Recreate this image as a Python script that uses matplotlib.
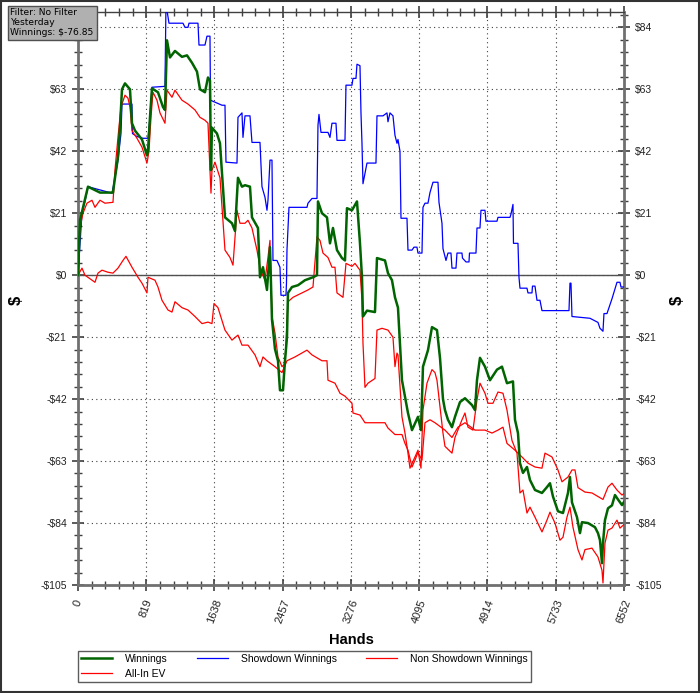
import matplotlib
matplotlib.use('Agg')
import matplotlib.pyplot as plt
from matplotlib.ticker import MultipleLocator, FuncFormatter
from matplotlib.patches import Rectangle

plt.rcParams['font.family'] = ['Liberation Sans', 'DejaVu Sans']

# Winnings (green)
win_hands = [0, 24, 120, 264, 420, 444, 480, 504, 528, 564, 624, 648, 684, 768, 828, 840, 864, 888, 960, 1020,
             1044, 1068, 1104, 1164, 1248, 1308, 1368, 1428, 1464, 1524, 1560, 1584, 1596, 1608, 1668, 1704, 1764,
             1848, 1884, 1920, 1968, 2004, 2064, 2088, 2160, 2184, 2220, 2268, 2304, 2328, 2364, 2400, 2424, 2460,
             2484, 2508, 2520, 2568, 2640, 2724, 2820, 2868, 2880, 2928, 2988, 3024, 3060, 3108, 3168, 3204, 3228,
             3288, 3348, 3384, 3408, 3420, 3468, 3564, 3588, 3684, 3720, 3768, 3804, 3840, 3888, 3960, 4008, 4080,
             4116, 4140, 4200, 4248, 4308, 4344, 4380, 4404, 4440, 4488, 4524, 4584, 4644, 4728, 4764, 4788, 4824,
             4884, 4944, 5028, 5088, 5148, 5220, 5244, 5280, 5304, 5340, 5388, 5424, 5484, 5568, 5628, 5664, 5700,
             5760, 5820, 5880, 5904, 5928, 5988, 6024, 6048, 6120, 6204, 6240, 6264, 6288, 6300, 6324, 6360, 6408,
             6444, 6480, 6528, 6552]
win_vals = [0, 18.6, 30, 28, 28, 33, 40, 50, 63, 65, 63, 51.5, 49, 46, 40.6, 42, 53.5, 63.3, 62, 57,
            56, 79.6, 73.8, 76, 74, 74.5, 72, 69, 63, 62, 67, 66, 35.6, 50, 48, 44.7, 19.6,
            17.6, 15, 33, 30, 30.5, 30, 19.6, 16, -0.7, 2.7, -5, 9.5, -15, -25, -29, -39, -39,
            -29, -21, -6, -4, -3.4, -1.7, -0.7, 0, 25, 21, 19.6, 10.8, 16, 8.5, 5.8, 5, 22.7,
            22, 25, 10.8, -0.7, -14, -12, -12.5, 5.8, 5, 0.7, -1.7, -7.5, -11, -35.6, -46.7, -52.5, -48,
            -52.5, -31, -25.4, -17.6, -18.6, -28, -42, -45.7, -49, -51.5, -48, -43, -41.7, -44, -45.7, -35.6, -28,
            -31, -35.6, -32, -31, -36.6, -36, -49, -53.5, -63.7, -67, -65, -69.4, -72.8, -73.8, -71.8, -70.5, -75,
            -80, -80.6, -73.8, -68.4, -77, -82, -87.4, -83.7, -84, -85.4, -87.4, -89.8, -97.6, -90.8, -83, -79, -78,
            -74.5, -76, -77.9, -76.85]

# Showdown Winnings (blue)
sd_hands = [0, 48, 84, 120, 408, 444, 480, 516, 528, 648, 654, 708, 780, 840, 864, 888, 1044, 1056, 1092, 1260,
            1284, 1320, 1332, 1440, 1452, 1524, 1548, 1584, 1590, 1728, 1764, 1776, 1908, 1920, 1968, 1980, 2004,
            2064, 2088, 2184, 2208, 2244, 2268, 2280, 2304, 2328, 2340, 2388, 2424, 2436, 2496, 2502, 2508, 2532,
            2748, 2760, 2808, 2868, 2880, 2892, 2916, 3000, 3024, 3048, 3096, 3108, 3204, 3216, 3288, 3300, 3336,
            3348, 3384, 3396, 3408, 3420, 3444, 3468, 3576, 3588, 3660, 3708, 3720, 3744, 3780, 3804, 3828, 3840,
            3864, 3876, 3948, 3960, 4008, 4032, 4068, 4080, 4128, 4140, 4164, 4200, 4224, 4260, 4320, 4332, 4368,
            4380, 4416, 4440, 4476, 4488, 4536, 4548, 4608, 4614, 4656, 4692, 4698, 4776, 4788, 4824, 4836, 4884,
            4896, 5028, 5040, 5184, 5196, 5220, 5226, 5280, 5292, 5304, 5388, 5400, 5448, 5454, 5484, 5508, 5544,
            5568, 5892, 5904, 5916, 5928, 6144, 6240, 6264, 6300, 6312, 6348, 6408, 6468, 6504, 6516, 6552]
sd_vals = [0, 21, 25, 30, 27.8, 33, 39, 48, 58, 58, 48, 47, 46.4, 46.4, 53.5, 63.7, 64, 92, 85.4, 85.4,
           84, 84, 85.4, 85.4, 78, 78, 81, 81, 59.3, 57.6, 57.6, 38.3, 38, 53.5, 55, 46.7, 54,
           54, 45, 45, 30, 26.4, 22, 25.4, 39, 39, 5, 5, 2.7, -6.8, -6.8, -2.7, 8.5, 23,
           23, 24.4, 26, 26, 50.8, 54.5, 48.4, 48.4, 46.7, 51.5, 51.5, 45.7, 45.7, 64.4, 64.4, 66.7, 66.7,
           71.5, 71, 55, 44.7, 31, 34.5, 38, 38, 54, 54, 55, 52, 55, 54, 47.4, 44.7, 46,
           42, 19.3, 19.3, 8.5, 8.5, 9.5, 9.5, 7.5, 7.5, 23, 24.4, 24.4, 28, 31.5, 31.5, 24.7, 17.6,
           9, 5, 7.5, 7.5, 2.4, 2.4, 7.5, 7.5, 5.8, 4.5, 4.5, 7.5, 7.5, 16, 16, 22, 22,
           18.3, 18.3, 19.6, 19.6, 20.7, 24, 10.8, 10.8, -0.7, -4.4, -4.4, -6, -6, -3.7, -3.7, -8.5, -8.5,
           -12, -12, -2.7, -2.7, -14, -14.6, -16, -18, -19, -13, -13, -8, -2.4, -2.4, -4, -4]

# Non Showdown Winnings (red)
nsd_hands = [0, 48, 84, 204, 240, 288, 360, 420, 480, 540, 576, 648, 720, 768, 828, 840, 924, 960, 1008, 1080,
             1128, 1164, 1248, 1320, 1404, 1488, 1560, 1608, 1632, 1680, 1764, 1848, 1920, 1968, 2040, 2124, 2184,
             2220, 2268, 2364, 2448, 2508, 2604, 2748, 2808, 2928, 2988, 3000, 3084, 3144, 3204, 3288, 3300, 3384,
             3444, 3684, 3720, 3804, 3888, 3924, 3960, 4008, 4044, 4080, 4128, 4164, 4224, 4284, 4404, 4488, 4560,
             4644, 4764, 4884, 4968, 5040, 5100, 5148, 5244, 5328, 5400, 5484, 5568, 5604, 5688, 5760, 5808, 5880,
             5928, 5964, 6000, 6084, 6168, 6240, 6300, 6360, 6408, 6468, 6528, 6552]
nsd_vals = [0, 2.4, 0, -2.4, 0.7, 1.7, 1, 0.7, 2.4, 5, 6.4, 2.7, -0.7, -2.7, -6, -0.7, -1.7, -4, -8.5, -11.8,
            -12.5, -9, -11, -11.8, -14, -16.4, -15.9, -16.4, -9.6, -11, -18.6, -22, -20.3, -23.7, -23.7, -27, -31,
            -27.7, -29, -31, -33, -29, -27.7, -25.4, -27, -29, -29, -35.6, -36.6, -40, -41, -43.4, -46.7, -47.4,
            -50, -50, -51.8, -54, -54, -57, -59.3, -65, -62.7, -60, -62.7, -50, -49, -50, -52.5, -55, -51.5,
            -50, -52.5, -52.5, -53.5, -52.5, -51.5, -57, -59.3, -61.6, -63.7, -65, -65.4, -60.3, -61.6, -66, -70, -68.4,
            -66, -66, -72, -73.5, -73.8, -75, -76, -71.8, -70.5, -72.8, -74.5, -74]

# All-In EV (red)
ev_hands = [0, 24, 60, 108, 168, 204, 264, 324, 420, 444, 480, 516, 564, 600, 624, 648, 708, 768, 828, 852,
            876, 900, 948, 984, 1044, 1068, 1128, 1164, 1248, 1320, 1404, 1464, 1524, 1560, 1596, 1608, 1644,
            1704, 1764, 1824, 1860, 1908, 1944, 2004, 2040, 2088, 2148, 2184, 2208, 2244, 2280, 2304, 2328, 2364,
            2400, 2448, 2484, 2520, 2580, 2688, 2760, 2820, 2868, 2904, 2940, 3000, 3048, 3084, 3108, 3180, 3216,
            3288, 3324, 3384, 3408, 3420, 3444, 3480, 3564, 3588, 3648, 3720, 3780, 3804, 3828, 3840, 3888, 3924,
            3960, 3984, 4044, 4080, 4116, 4140, 4188, 4248, 4284, 4308, 4344, 4380, 4404, 4488, 4524, 4608, 4644,
            4680, 4740, 4788, 4824, 4884, 4920, 4980, 5040, 5100, 5148, 5208, 5268, 5304, 5340, 5388, 5424, 5484,
            5568, 5628, 5664, 5724, 5784, 5820, 5868, 5904, 5940, 6000, 6048, 6084, 6168, 6240, 6288, 6300, 6324,
            6360, 6408, 6468, 6504, 6552]
ev_vals = [0, 16, 21, 24.4, 25.4, 23, 25.4, 24.4, 24.7, 35.6, 46.7, 57, 61, 60, 57, 49, 46.4, 43.4, 38, 42,
           53.5, 62, 59.3, 55, 51.5, 62.7, 60.3, 62.7, 59.3, 58, 56, 53.5, 52.5, 51.5, 27.8, 35.6, 38.3,
           33, 8.5, 6, 3.4, 22, 17.6, 17.6, 18.6, 16, 8.5, 2.7, 0.7, -1.7, 6, 11.8, -14, -19.6,
           -27.7, -31, -30, -9, -7.5, -6, -5, -4, 13, 11.8, 7.5, 6, 2.7, 2.7, -6, -7.5, 4,
           3, 4, 1.7, -8.5, -23, -38, -36.6, -35, -18.6, -18, -18.6, -21, -31, -26.4, -27, -48, -53.5,
           -60.3, -65.4, -61.6, -59.3, -65.4, -45.7, -36.6, -32, -33, -35.6, -44.7, -53.5, -58, -60.3, -55, -49, -46.7,
           -51.5, -52.5, -42.3, -36.6, -40, -43.4, -43.4, -39.6, -40, -45.7, -56, -60.3, -73.8, -72.8, -80.6, -78.6, -82,
           -87, -83, -80.3, -84, -89.8, -88.8, -82, -78.6, -85.4, -93, -96.5, -93, -92.5, -95.5, -100, -104.3, -90.8,
           -86.4, -85.7, -83, -85.7, -84.5]

yticks = [-105, -84, -63, -42, -21, 0, 21, 42, 63, 84]
xticks = [0, 819, 1638, 2457, 3276, 4095, 4914, 5733, 6552]

fig = plt.figure(figsize=(7, 6.93), dpi=100)
ax = fig.add_axes([0.1114, 0.1558, 0.78, 0.8269])

ax.plot(sd_hands, sd_vals, color='#0000ff', lw=0.9, label='Showdown Winnings', zorder=3)
ax.plot(nsd_hands, nsd_vals, color='#ff0000', lw=0.9, label='Non Showdown Winnings', zorder=3)
ax.plot(ev_hands, ev_vals, color='#ff0000', lw=0.9, label='All-In EV', zorder=3)
ax.plot(win_hands, win_vals, color='#006400', lw=1.8, label='Winnings', zorder=4)
ax.axhline(0, color='#505050', lw=1.0, zorder=2)

ax.set_xlim(0, 6552)
ax.set_ylim(-105, 89.2)
ax.set_yticks(yticks)
ax.set_xticks(xticks)
ax.yaxis.set_minor_locator(MultipleLocator(4.2))
ax.xaxis.set_minor_locator(MultipleLocator(163.8))
money = FuncFormatter(lambda v, p: ('-$%d' % abs(round(v))) if v < 0 else '$%d' % round(v))
ax.yaxis.set_major_formatter(money)
ax.grid(True, which='major', linestyle=(0, (1, 3)), color='#404040', lw=0.8)

ax.tick_params(axis='both', which='major', direction='inout', length=9, width=1.2, color='#404040',
               labelsize=7.5, labelcolor='#222222', right=True, labelright=True, top=True)
ax.tick_params(axis='both', which='minor', direction='inout', length=6, width=1.0, color='#404040',
               right=True, top=True)
ax.tick_params(axis='x', which='major', pad=5, labelsize=8)
for lbl in ax.get_xticklabels():
    lbl.set_rotation(70)
    lbl.set_ha('center')

# the info box covers the top-left $84 label in the original
ax.yaxis.get_major_ticks()[-1].label1.set_visible(False)

for s in ['left', 'bottom', 'right']:
    ax.spines[s].set_color('#707070')
    ax.spines[s].set_linewidth(2)
ax.spines['top'].set_color('#404040')
ax.spines['top'].set_linewidth(1)

ax.set_xlabel('Hands', fontsize=10.5, fontweight='bold', labelpad=6)
fig.text(0.023, 0.567, '$', fontsize=12, fontweight='bold', rotation=90, ha='center', va='center')
fig.text(0.968, 0.567, '$', fontsize=12, fontweight='bold', rotation=90, ha='center', va='center')

# info box
fig.text(0.015, 0.988, 'Filter: No Filter\nYesterday\nWinnings: $-76.85', fontsize=6.6,
         family=['DejaVu Sans'], linespacing=1.15, ha='left', va='top',
         bbox=dict(boxstyle='square,pad=0.3', facecolor='#b0b0b0', edgecolor='#505050', lw=1))

handles, labels = ax.get_legend_handles_labels()
order = [3, 2, 0, 1]
leg = fig.legend([handles[i] for i in order], [labels[i] for i in order], loc='lower left',
                 bbox_to_anchor=(0.111, 0.0159, 0.647, 0.05), mode='expand', ncol=3, fontsize=7.5,
                 fancybox=False, edgecolor='#333333', handlelength=3, borderaxespad=0,
                 labelspacing=0.5, handletextpad=1.2, borderpad=0.3)
leg.get_frame().set_linewidth(1)

fig.patches.append(Rectangle((0.001, 0.001), 0.998, 0.998, transform=fig.transFigure,
                             fill=False, edgecolor='#333333', lw=1.5))

fig.savefig('out.png', dpi=100)
